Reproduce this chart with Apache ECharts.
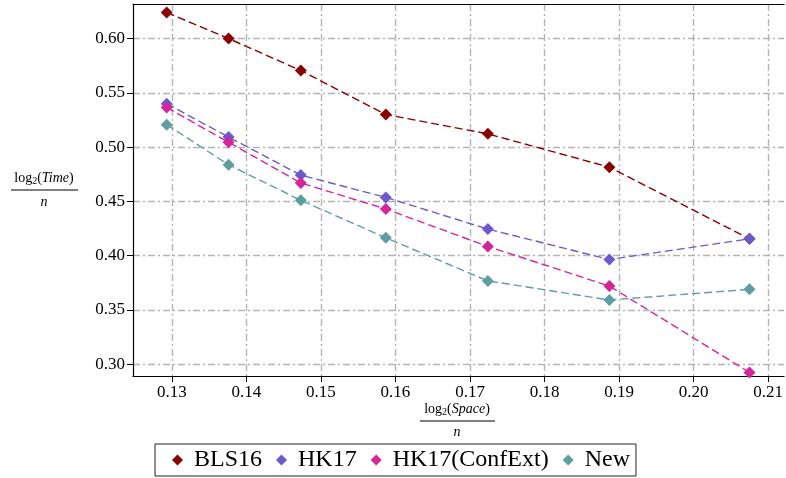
<!DOCTYPE html>
<html style="height: 100%">
<head>
    <meta charset="UTF-8">
</head>
<body style="height: 100%; margin: 0">
    <div id="container" style="width: 786px; height: 478px;"></div>
    <script type="text/javascript" src="https://cdn.jsdelivr.net/npm/echarts@6/dist/echarts.min.js"></script>
    <script type="text/javascript">
        // x = log2(Space)/n, y = log2(Time)/n
        var spaceX = [0.1293, 0.1376, 0.1473, 0.1587, 0.1724, 0.1887, 0.2075];
        var bls16 = [0.624, 0.600, 0.5705, 0.530, 0.5122, 0.4815, 0.4155];
        var hk17 = [0.540, 0.5093, 0.4742, 0.4537, 0.4245, 0.3965, 0.4155];
        var hk17Conf = [0.5365, 0.5045, 0.4670, 0.4430, 0.4085, 0.3720, 0.2925];
        var newVals = [0.5207, 0.4838, 0.4510, 0.4165, 0.3768, 0.3592, 0.3690];
        var xTicks = [0.13, 0.14, 0.15, 0.16, 0.17, 0.18, 0.19, 0.20, 0.21];
        var yTicks = [0.30, 0.35, 0.40, 0.45, 0.50, 0.55, 0.60];

        var serif = 'Liberation Serif';
        var gridStyle = {color: '#b4b4b4', width: 1.4, type: [7, 3, 2, 3]};

        function pairs(ys) {
            var out = [];
            for (var i = 0; i < ys.length; i++) {
                out.push([spaceX[i], ys[i]]);
            }
            return out;
        }

        function makeSeries(name, ys, color) {
            return {
                name: name,
                type: 'line',
                data: pairs(ys),
                symbol: 'diamond',
                symbolSize: 12,
                itemStyle: {color: color},
                lineStyle: {color: color, width: 1.4, type: [8, 4]},
                animation: false
            };
        }

        var myChart = echarts.init(document.getElementById('container'));
        var option = {
            backgroundColor: '#fff',
            animation: false,
            grid: {left: 133, right: 0, top: 4, bottom: 102},
            legend: {
                left: 155,
                top: 444,
                padding: [4, 6, 4, 17],
                itemGap: 14,
                itemWidth: 11,
                itemHeight: 11,
                borderColor: '#222',
                borderWidth: 1,
                formatter: function (name) { return ' ' + name; },
                textStyle: {fontFamily: serif, fontSize: 24, color: '#000'},
                data: [
                    {name: 'BLS16', icon: 'diamond'},
                    {name: 'HK17', icon: 'diamond'},
                    {name: 'HK17(ConfExt)', icon: 'diamond'},
                    {name: 'New', icon: 'diamond'}
                ]
            },
            xAxis: [{
                type: 'value',
                min: 0.12478,
                max: 0.21214,
                axisLine: {lineStyle: {color: '#000', width: 1.2}},
                axisTick: {customValues: xTicks, length: 6, lineStyle: {color: '#000'}},
                axisLabel: {
                    customValues: xTicks,
                    fontFamily: serif, fontSize: 17, color: '#000', margin: 8,
                    formatter: function (v) { return v.toFixed(2); }
                },
                splitLine: {show: true, lineStyle: gridStyle}
            }, {
                type: 'value',
                position: 'top',
                min: 0.12478,
                max: 0.21214,
                axisLine: {show: true, lineStyle: {color: '#000', width: 1.2}},
                axisTick: {show: false},
                axisLabel: {show: false},
                splitLine: {show: false}
            }],
            yAxis: {
                type: 'value',
                min: 0.2892,
                max: 0.6318,
                axisLine: {show: true, lineStyle: {color: '#000', width: 1.2}},
                axisTick: {show: true, customValues: yTicks, length: 6, lineStyle: {color: '#000'}},
                axisLabel: {
                    customValues: yTicks,
                    fontFamily: serif, fontSize: 17, color: '#000', margin: 8,
                    formatter: function (v) { return v.toFixed(2); }
                },
                splitLine: {show: true, lineStyle: gridStyle}
            },
            graphic: [
                {type: 'text', x: 44, y: 178, style: {text: 'log{s|2}({i|Time})', rich: {s: {fontSize: 10, padding: [6, 0, 0, 0], fontFamily: serif}, i: {fontStyle: 'italic', fontFamily: serif, fontSize: 14}}, font: '14px "Liberation Serif"', fill: '#000', align: 'center', verticalAlign: 'middle'}},
                {type: 'line', shape: {x1: 11, y1: 190, x2: 78, y2: 190}, style: {stroke: '#000', lineWidth: 1}},
                {type: 'text', x: 44, y: 202, style: {text: 'n', font: 'italic 14px "Liberation Serif"', fill: '#000', align: 'center', verticalAlign: 'middle'}},
                {type: 'text', x: 457, y: 409, style: {text: 'log{s|2}({i|Space})', rich: {s: {fontSize: 10, padding: [6, 0, 0, 0], fontFamily: serif}, i: {fontStyle: 'italic', fontFamily: serif, fontSize: 14}}, font: '14px "Liberation Serif"', fill: '#000', align: 'center', verticalAlign: 'middle'}},
                {type: 'line', shape: {x1: 420, y1: 421, x2: 495, y2: 421}, style: {stroke: '#000', lineWidth: 1}},
                {type: 'text', x: 457, y: 432, style: {text: 'n', font: 'italic 14px "Liberation Serif"', fill: '#000', align: 'center', verticalAlign: 'middle'}}
            ],
            series: [
                makeSeries('BLS16', bls16, '#8b0000'),
                makeSeries('HK17', hk17, '#6a5acd'),
                makeSeries('HK17(ConfExt)', hk17Conf, '#d6249a'),
                makeSeries('New', newVals, '#5f9ea0')
            ]
        };
        myChart.setOption(option, true);
    </script>
</body>
</html>
